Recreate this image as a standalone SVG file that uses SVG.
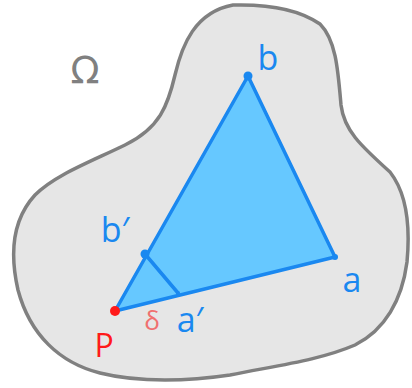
<svg xmlns="http://www.w3.org/2000/svg" width="412" height="388" viewBox="0 0 412 388">
<style>
.lbl{font-family:"Open Sans","DejaVu Sans",sans-serif;font-size:34px;fill:#1a88f0}
.edge{stroke:#1a88f0;stroke-width:3.5;fill:none;stroke-linecap:round;stroke-linejoin:round}
.dot{fill:#1a88f0}
</style>
<rect width="412" height="388" fill="#ffffff"/>
<g id="omega-region">
<path d="M233,5 C270,4 300,10 320,24 C336,40 338,70 341,105 C344,130 360,145 390,172 C408,195 410,230 407,262 C402,300 385,330 355,345 C320,360 280,365 230,375 C190,381 140,383 100,373 C60,363 30,335 18,290 C10,255 12,220 35,195 C55,175 90,162 125,145 C160,128 168,105 175,75 C182,45 195,12 233,5 Z" fill="#e6e6e6" stroke="#808080" stroke-width="3.5"/>
<text x="85" y="83" font-family="'DejaVu Sans',sans-serif" font-size="38" fill="#808080" text-anchor="middle">Ω</text>
</g>
<g id="triangle">
<polygon points="115,311 248,76 335,257" fill="#66c8ff"/>
</g>
<g id="connectors">
<path class="edge" d="M115,311 L248,76 L335,257 Z"/>
<path class="edge" d="M145,254 L178,293"/>
</g>
<g id="node-b"><circle class="dot" cx="248" cy="76" r="4.5"/><text class="lbl" x="268" y="70" text-anchor="middle">b</text></g>
<g id="node-a"><circle class="dot" cx="335" cy="257" r="3"/><text class="lbl" x="352" y="292" text-anchor="middle">a</text></g>
<g id="node-b-prime"><circle class="dot" cx="145" cy="254" r="4.5"/><text class="lbl" x="115" y="242" text-anchor="middle">b′</text></g>
<g id="node-a-prime"><circle class="dot" cx="178" cy="293" r="2"/><text class="lbl" x="190" y="332" text-anchor="middle">a′</text></g>
<g id="node-p"><circle cx="115" cy="311" r="5" fill="#ff1a1a"/><text x="104" y="357" font-family="'Open Sans',sans-serif" font-size="32" fill="#ff1a1a" text-anchor="middle">P</text></g>
<g id="label-delta"><text x="152" y="330" font-family="'Open Sans',sans-serif" font-size="26" fill="#f07070" text-anchor="middle">δ</text></g>
</svg>
